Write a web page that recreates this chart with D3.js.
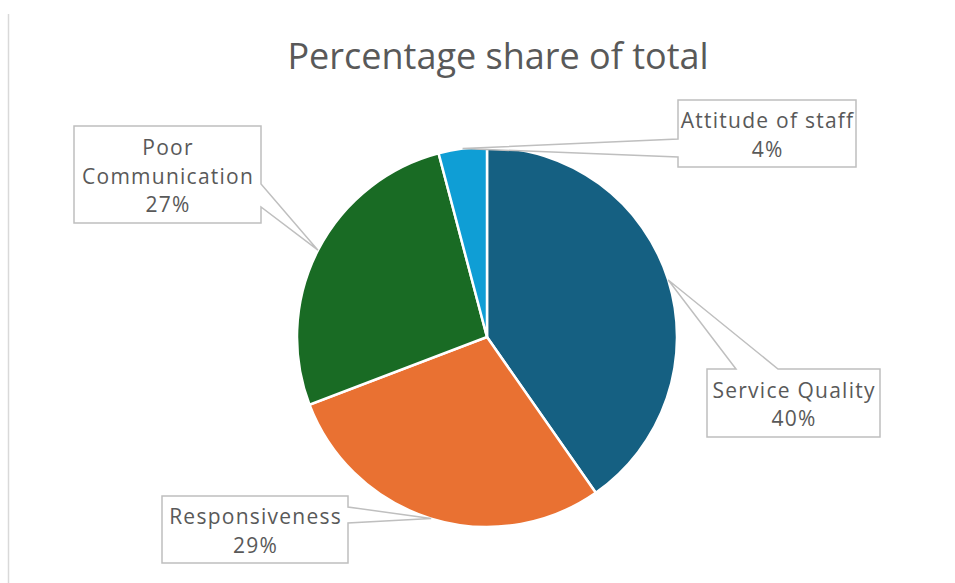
<!DOCTYPE html>
<meta charset="utf-8">
<style>
body { margin: 0; background: #fff; }
.label text { font-family: "Open Sans", sans-serif; font-size: 21px; letter-spacing: 1.25px; fill: #595959; }
.title { font-family: "Open Sans", sans-serif; font-size: 36px; fill: #595959; }
</style>
<svg width="955" height="583"></svg>
<script src="https://d3js.org/d3.v7.min.js"></script>
<script>

var categories = ["Service Quality", "Responsiveness", "Poor Communication", "Attitude of staff"];
var shares = [40.3, 28.9, 26.7, 4.1];
var labelText = ["40%", "29%", "27%", "4%"];
var colors = ["#156082", "#E97132", "#196B24", "#0F9ED5"];

var svg = d3.select("svg"),
    cx = 487, cy = 337, radius = 190;

// left frame edge
svg.append("line")
    .attr("x1", 8.5).attr("x2", 8.5)
    .attr("y1", 14).attr("y2", 583)
    .style("stroke", "#d9d9d9")
    .style("stroke-width", 1.5);

svg.append("text")
    .attr("class", "title")
    .attr("x", 498)
    .attr("y", 68.5)
    .attr("text-anchor", "middle")
    .text("Percentage share of total");

var data = categories.map(function(c, i) {
  return {name: c, value: shares[i], label: labelText[i], color: colors[i]};
});

var pie = d3.pie().sort(null).value(function(d) { return d.value; });
var arc = d3.arc().innerRadius(0).outerRadius(radius);

var g = svg.append("g").attr("transform", "translate(" + cx + "," + cy + ")");

var arcs = pie(data);

g.selectAll("path")
  .data(arcs)
  .enter().append("path")
    .attr("d", arc)
    .style("fill", function(d) { return d.data.color; })
    .style("stroke", "#fff")
    .style("stroke-width", 2.5);

// callout boxes: box rect, side the pointer leaves from, and the gap along that side
var boxes = [
  {x: 707, y: 369, w: 173, h: 68, side: "top", a: 736, b: 778, lines: ["Service Quality"]},
  {x: 162, y: 496, w: 186, h: 67, side: "right", a: 507, b: 523, lines: ["Responsiveness"]},
  {x: 74, y: 126, w: 187, h: 97, side: "right", a: 184, b: 207, lines: ["Poor", "Communication"]},
  {x: 678, y: 100, w: 178, h: 67, side: "left", a: 139, b: 157, lines: ["Attitude of staff"]}
];

function tip(d) {
  var ang = (d.startAngle + d.endAngle) / 2;
  return [cx + radius * Math.sin(ang), cy - radius * Math.cos(ang)];
}

function calloutPath(b, t) {
  var x0 = b.x, y0 = b.y, x1 = b.x + b.w, y1 = b.y + b.h;
  var p;
  if (b.side === "top") {
    p = [[x0, y0], [b.a, y0], t, [b.b, y0], [x1, y0], [x1, y1], [x0, y1]];
  } else if (b.side === "right") {
    p = [[x0, y0], [x1, y0], [x1, b.a], t, [x1, b.b], [x1, y1], [x0, y1]];
  } else {
    p = [[x0, y0], [x1, y0], [x1, y1], [x0, y1], [x0, b.b], t, [x0, b.a]];
  }
  return "M" + p.map(function(q) { return q[0] + "," + q[1]; }).join("L") + "Z";
}

var lab = svg.selectAll(".label")
  .data(arcs)
  .enter().append("g")
    .attr("class", "label");

lab.append("path")
    .attr("d", function(d, i) { return calloutPath(boxes[i], tip(d)); })
    .style("fill", "#fff")
    .style("stroke", "#bfbfbf")
    .style("stroke-width", 1.5);

lab.each(function(d, i) {
  var b = boxes[i];
  var lines = b.lines.concat([d.data.label]);
  var lh = 28.5;
  var top = b.y + b.h / 2 - (lines.length - 1) * lh / 2 + 9;
  d3.select(this).selectAll("text")
    .data(lines)
    .enter().append("text")
      .attr("x", b.x + b.w / 2 + 0.6)
      .attr("y", function(t, j) { return top + j * lh; })
      .attr("text-anchor", "middle")
      .text(function(t) { return t; });
});

</script>
